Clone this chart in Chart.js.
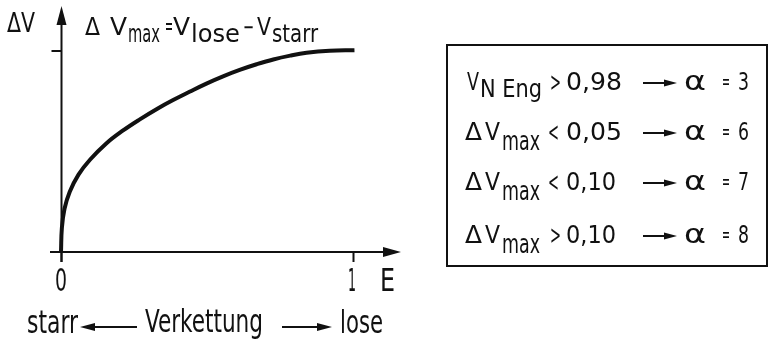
<!DOCTYPE html>
<html>
<head>
<meta charset="utf-8">
<script src="https://cdn.jsdelivr.net/npm/chart.js@4"></script>
<style>
  html, body { margin: 0; padding: 0; background: #fff; }
  #wrap { width: 769px; height: 343px; position: relative; }
</style>
</head>
<body>
<div id="wrap"><canvas id="myChart"></canvas></div>
<script>
// curve: E (Verkettung) vs. ΔV (normalised)
const eValues  = [0, 0.003, 0.012, 0.030, 0.060, 0.100, 0.155, 0.210, 0.270, 0.330, 0.384, 0.440, 0.498, 0.555, 0.612, 0.670, 0.727, 0.785, 0.841, 0.920, 1.005];
const dvValues = [0, 0.120, 0.215, 0.300, 0.385, 0.460, 0.540, 0.602, 0.660, 0.713, 0.756, 0.797, 0.838, 0.874, 0.906, 0.934, 0.958, 0.977, 0.991, 1.001, 1.004];

const xTickValues = [0, 1];
const xTickLabels = ["0", "1"];
const yTickValues = [1];

const xAxisTitle = "E";
const yAxisTitle = "ΔV";
const bottomLeft = "starr", bottomMid = "Verkettung", bottomRight = "lose";

// legend box rows: [main, subscript, relation, limit, alpha value]
const ruleMain  = ["V", "ΔV", "ΔV", "ΔV"];
const ruleSub   = ["N Eng", "max", "max", "max"];
const ruleRel   = [">", "<", "<", ">"];
const ruleLimit = ["0,98", "0,05", "0,10", "0,10"];
const ruleAlpha = ["3", "6", "7", "8"];

const FONT = "'DejaVu Sans Condensed', 'DejaVu Sans', sans-serif";
const INK = "#111";

// draw text squeezed / stretched to a given width
function fitText(ctx, str, x, y, size, w) {
  ctx.font = size + "px " + FONT;
  const m = ctx.measureText(str).width;
  ctx.save();
  ctx.translate(x, y);
  ctx.scale(w / m, 1);
  ctx.fillText(str, 0, 0);
  ctx.restore();
}

function arrow(ctx, x0, y, x1, head, half) {
  const dir = Math.sign(x1 - x0);
  ctx.beginPath();
  ctx.moveTo(x0, y);
  ctx.lineTo(x1 - dir * head * 0.6, y);
  ctx.stroke();
  ctx.beginPath();
  ctx.moveTo(x1, y);
  ctx.lineTo(x1 - dir * head, y - half);
  ctx.lineTo(x1 - dir * head, y + half);
  ctx.closePath();
  ctx.fill();
}

const axesPlugin = {
  id: "axesPlugin",
  beforeDatasetsDraw(chart) {
    const ctx = chart.ctx;
    const xs = chart.scales.x, ys = chart.scales.y;
    const x0 = xs.getPixelForValue(0) + 0.5;
    const y0 = ys.getPixelForValue(0);
    ctx.save();
    ctx.strokeStyle = INK;
    ctx.fillStyle = INK;
    ctx.lineWidth = 2;
    // y axis with arrow
    ctx.beginPath();
    ctx.moveTo(x0, y0 + 10);
    ctx.lineTo(x0, 20);
    ctx.stroke();
    ctx.beginPath();
    ctx.moveTo(x0, 6);
    ctx.lineTo(x0 - 5, 25);
    ctx.lineTo(x0 + 5, 25);
    ctx.closePath();
    ctx.fill();
    // x axis with arrow
    ctx.beginPath();
    ctx.moveTo(50, y0);
    ctx.lineTo(388, y0);
    ctx.stroke();
    ctx.beginPath();
    ctx.moveTo(401, y0);
    ctx.lineTo(383, y0 - 5);
    ctx.lineTo(383, y0 + 5);
    ctx.closePath();
    ctx.fill();
    // ticks
    xTickValues.forEach(v => {
      const px = xs.getPixelForValue(v) + 0.5;
      ctx.beginPath();
      ctx.moveTo(px, y0);
      ctx.lineTo(px, y0 + 10);
      ctx.stroke();
    });
    yTickValues.forEach(v => {
      const py = ys.getPixelForValue(v);
      ctx.beginPath();
      ctx.moveTo(x0 - 10, py);
      ctx.lineTo(x0, py);
      ctx.stroke();
    });
    ctx.restore();
  },
  afterDraw(chart) {
    const ctx = chart.ctx;
    const xs = chart.scales.x;
    ctx.save();
    ctx.fillStyle = INK;
    ctx.strokeStyle = INK;
    ctx.textBaseline = "alphabetic";
    ctx.textAlign = "left";

    // axis titles and tick labels
    fitText(ctx, yAxisTitle, 7, 32, 26, 28);
    const tickW = [12, 8];
    xTickValues.forEach((v, i) => {
      const px = xs.getPixelForValue(v);
      fitText(ctx, xTickLabels[i], px - tickW[i] / 2 - (i ? 1 : 0), 291, 32, tickW[i]);
    });
    fitText(ctx, xAxisTitle, 380, 291, 32, 15);

    // formula above the curve
    fitText(ctx, "Δ", 85, 35, 24, 15);
    fitText(ctx, "V", 110, 35, 24, 17);
    fitText(ctx, "max", 128, 42, 25, 32);
    fitText(ctx, "=", 165, 34, 24, 8);
    fitText(ctx, "V", 173, 35, 24, 17);
    fitText(ctx, "lose", 191, 42, 24, 49);
    fitText(ctx, "−", 243, 35, 24, 11);
    fitText(ctx, "V", 257, 35, 24, 14);
    fitText(ctx, "starr", 272, 42, 24, 46);

    // bottom line
    fitText(ctx, bottomLeft, 27, 333, 32, 51);
    fitText(ctx, bottomMid, 145, 332, 32, 118);
    fitText(ctx, bottomRight, 340, 333, 32, 43);
    ctx.lineWidth = 2;
    arrow(ctx, 137, 327, 80, 15, 4);
    arrow(ctx, 282, 327, 332, 15, 4);

    // rule box
    ctx.lineWidth = 2;
    ctx.strokeRect(447, 45, 320, 221);
    const base = [90, 140, 190, 243];
    ruleMain.forEach((m, i) => {
      const b = base[i];
      if (m === "V") {
        fitText(ctx, "V", 467, b, 25, 12);
        fitText(ctx, ruleSub[i], 480, b + 7, 25, 62);
      } else {
        fitText(ctx, "Δ", 465, b, 25, 17);
        fitText(ctx, "V", 485, b, 25, 15);
        fitText(ctx, ruleSub[i], 502, b + 10, 26, 38);
      }
      fitText(ctx, ruleRel[i], ruleRel[i] === "<" ? 548 : 550, b + 1, 26, 11);
      fitText(ctx, ruleLimit[i], 566, b, 25, ruleLimit[i] === "0,10" ? 50 : 56);
      arrow(ctx, 643, b - 7, 677, 13, 3.5);
      fitText(ctx, "α", 684, b, 26, 22);
      fitText(ctx, "=", 722, b - 1, 22, 8);
      fitText(ctx, ruleAlpha[i], 738, b, 25, 11);
    });
    ctx.restore();
  }
};

const ctx = document.getElementById("myChart").getContext("2d");
const chart = new Chart(ctx, {
  type: "scatter",
  data: {
    datasets: [{
      label: "ΔV",
      data: eValues.map((e, i) => ({ x: e, y: dvValues[i] })),
      showLine: true,
      borderColor: INK,
      borderWidth: 4,
      pointRadius: 0,
      tension: 0.4,
      fill: false,
      clip: false
    }]
  },
  options: {
    responsive: true,
    maintainAspectRatio: false,
    animation: false,
    layout: { padding: { left: 61, right: 416, top: 51, bottom: 91 } },
    plugins: { legend: { display: false }, tooltip: { enabled: false } },
    scales: {
      x: { type: "linear", min: 0, max: 1, display: false },
      y: { type: "linear", min: 0, max: 1, display: false }
    }
  },
  plugins: [axesPlugin]
});
</script>
</body>
</html>
